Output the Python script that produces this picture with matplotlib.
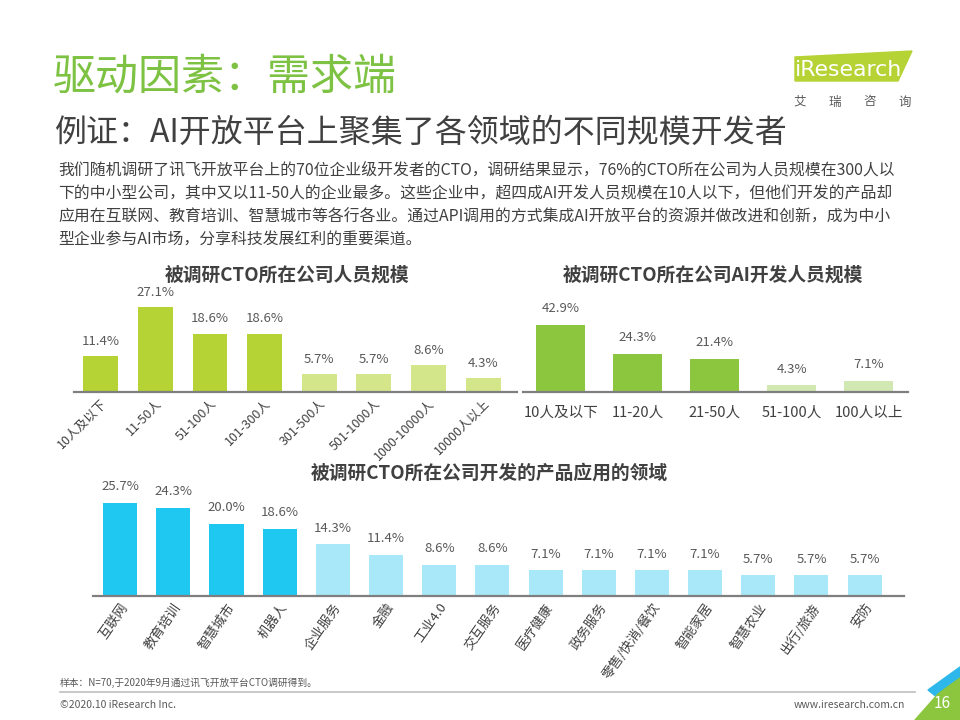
import matplotlib
matplotlib.use('Agg')
import matplotlib.pyplot as plt
from matplotlib.patches import Polygon

plt.rcParams['font.family'] = ['Noto Sans CJK SC', 'DejaVu Sans']

# data
staff_cats = ['10人及以下', '11-50人', '51-100人', '101-300人', '301-500人',
              '501-1000人', '1000-10000人', '10000人以上']
staff_vals = [11.4, 27.1, 18.6, 18.6, 5.7, 5.7, 8.6, 4.3]

ai_cats = ['10人及以下', '11-20人', '21-50人', '51-100人', '100人以上']
ai_vals = [42.9, 24.3, 21.4, 4.3, 7.1]

field_cats = ['互联网', '教育培训', '智慧城市', '机器人', '企业服务', '金融', '工业4.0',
              '交互服务', '医疗健康', '政务服务', '零售/快消/餐饮', '智能家居',
              '智慧农业', '出行/旅游', '安防']
field_vals = [25.7, 24.3, 20.0, 18.6, 14.3, 11.4, 8.6, 8.6, 7.1, 7.1, 7.1, 7.1,
              5.7, 5.7, 5.7]

body_lines = [
    '我们随机调研了讯飞开放平台上的70位企业级开发者的CTO，调研结果显示，76%的CTO所在公司为人员规模在300人以',
    '下的中小型公司，其中又以11-50人的企业最多。这些企业中，超四成AI开发人员规模在10人以下，但他们开发的产品却',
    '应用在互联网、教育培训、智慧城市等各行各业。通过API调用的方式集成AI开放平台的资源并做改进和创新，成为中小',
    '型企业参与AI市场，分享科技发展红利的重要渠道。',
]

W, H = 960, 720
fig = plt.figure(figsize=(9.6, 7.2), dpi=100)


def fx(x):
    return x / W


def fy(y):
    return 1 - y / H


def px_axes(x0, y0, x1, y1):
    return fig.add_axes([fx(x0), fy(y1), (x1 - x0) / W, (y1 - y0) / H])


def bar_chart(ax, vals, colors, xlim, ylim, width, label_size, off):
    pos = list(range(len(vals)))
    ax.bar(pos, vals, width=width, color=colors)
    ax.set_xlim(*xlim)
    ax.set_ylim(*ylim)
    for s in ['top', 'right', 'left']:
        ax.spines[s].set_visible(False)
    ax.spines['bottom'].set_color('#7f7f7f')
    ax.spines['bottom'].set_linewidth(1.6)
    ax.set_yticks([])
    ax.tick_params(axis='x', length=0, colors='#404040')
    for p, v in zip(pos, vals):
        ax.annotate(f'{v:.1f}%', (p, v), xytext=(0, off), textcoords='offset points',
                    ha='center', va='bottom', fontsize=label_size, color='#595959',
                    annotation_clip=False)
    return pos


# header
fig.text(fx(53), fy(78), '驱动因素：需求端', fontsize=31, color='#7dc242', va='center')
fig.text(fx(55), fy(133), '例证：AI开放平台上聚集了各领域的不同规模开发者', fontsize=23,
         color='#404040', va='center')
for i, line in enumerate(body_lines):
    fig.text(fx(58), fy(170 + 23.5 * i), line, fontsize=11.4, color='#404040', va='center')

# logo
fig.patches.append(Polygon([(fx(795), fy(57)), (fx(912), fy(51)), (fx(898), fy(81)),
                            (fx(795), fy(81))], closed=True, color='#b5d334',
                           transform=fig.transFigure))
fig.text(fx(795), fy(70), 'iResearch', fontsize=15.8, color='white', va='center',
         family='Liberation Sans Narrow')
for k, ch in enumerate('艾瑞咨询'):
    fig.text(fx(800 + 35 * k), fy(102), ch, fontsize=9, color='#595959', va='center',
             ha='center')

# chart 1
fig.text(fx(287), fy(275), '被调研CTO所在公司人员规模', fontsize=13.5, fontweight='bold',
         color='#404040', ha='center', va='center')
ax1 = px_axes(74, 300, 517, 392)
c1 = ['#b5d334'] * 4 + ['#d3e78a'] * 4
p1 = bar_chart(ax1, staff_vals, c1, (-0.49, 7.62), (0, 29.3), 0.64, 9.5, 6)
ax1.set_xticks(p1)
ax1.set_xticklabels(staff_cats, rotation=45, ha='right', rotation_mode='anchor',
                    fontsize=9)

# chart 2
fig.text(fx(713), fy(275), '被调研CTO所在公司AI开发人员规模', fontsize=13.5, fontweight='bold',
         color='#404040', ha='center', va='center')
ax2 = px_axes(523, 300, 908, 392)
c2 = ['#8cc63f'] * 3 + ['#d1e8b2'] * 2
p2 = bar_chart(ax2, ai_vals, c2, (-0.49, 4.51), (0, 59), 0.63, 9.5, 7)
ax2.set_xticks(p2)
ax2.set_xticklabels(ai_cats, fontsize=10.5)
ax2.tick_params(axis='x', pad=10)

# chart 3
fig.text(fx(489), fy(473), '被调研CTO所在公司开发的产品应用的领域', fontsize=13.5,
         fontweight='bold', color='#404040', ha='center', va='center')
ax3 = px_axes(93, 490, 904, 596)
c3 = ['#1ec8f0'] * 4 + ['#a9e8f9'] * 11
p3 = bar_chart(ax3, field_vals, c3, (-0.51, 14.74), (0, 29.3), 0.64, 9.5, 7)
ax3.set_xticks(p3)
ax3.set_xticklabels(field_cats, rotation=55, ha='right', rotation_mode='anchor',
                    fontsize=9.5)

# footer
fig.text(fx(60), fy(683), '样本：N=70,于2020年9月通过讯飞开放平台CTO调研得到。', fontsize=7,
         color='#595959', va='center')
fig.add_artist(plt.Line2D([fx(60), fx(915)], [fy(692), fy(692)], color='#bfbfbf', lw=1.2))
fig.text(fx(60), fy(705), '©2020.10 iResearch Inc.', fontsize=7.5, color='#595959',
         va='center')
fig.text(fx(905), fy(705), 'www.iresearch.com.cn', fontsize=7.5, color='#595959',
         va='center', ha='right')
fig.patches.append(Polygon([(fx(928), fy(690)), (fx(960), fy(667)), (fx(960), fy(682)),
                            (fx(938), fy(698))], closed=True, color='#2eb7ea',
                           transform=fig.transFigure))
fig.patches.append(Polygon([(fx(915), fy(720)), (fx(938), fy(694)), (fx(960), fy(678)),
                            (fx(960), fy(720))], closed=True, color='#8cc63f',
                           transform=fig.transFigure))
fig.text(fx(942), fy(704), '16', fontsize=11, color='white', va='center', ha='center')

fig.savefig('out.png', dpi=100)
